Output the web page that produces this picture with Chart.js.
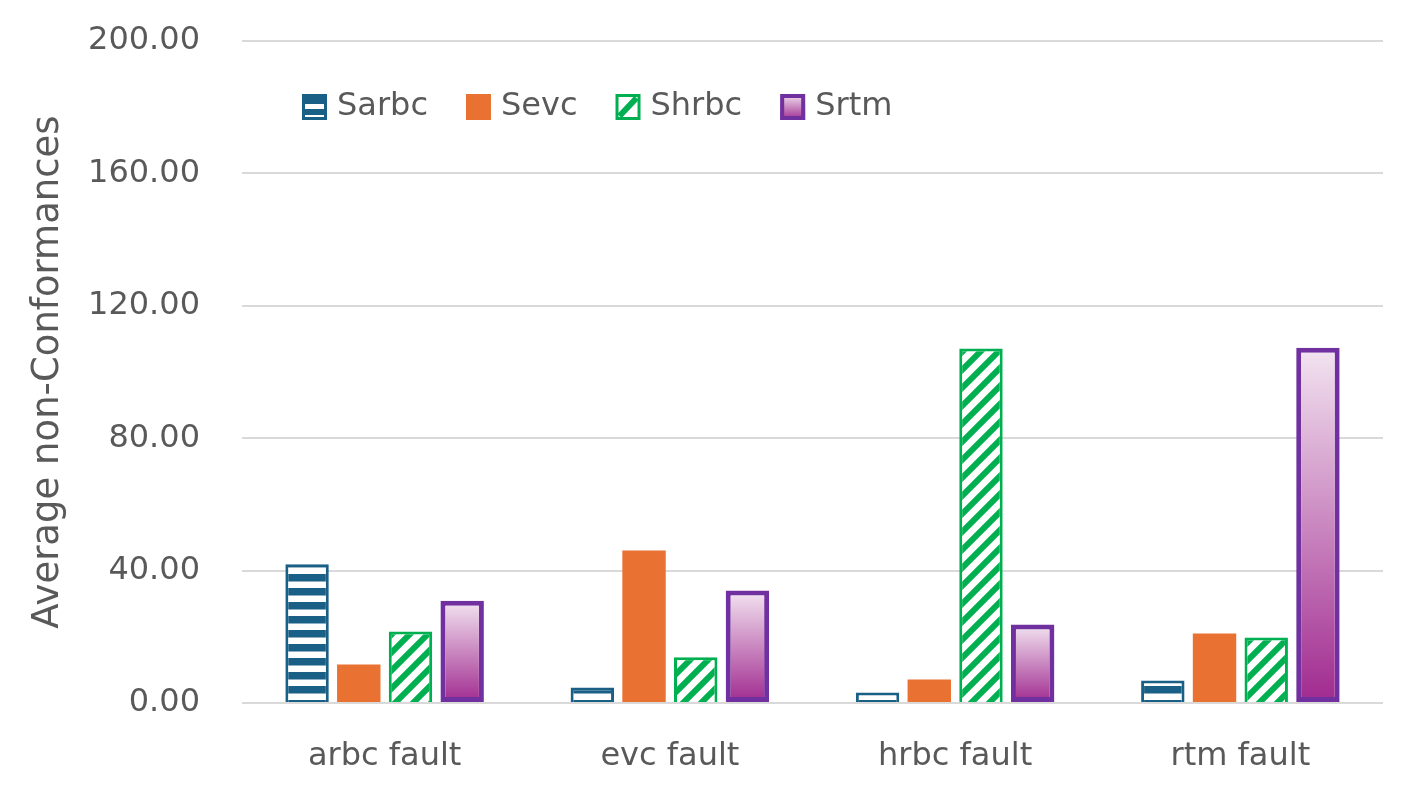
<!DOCTYPE html>
<html>
<head>
<meta charset="utf-8">
<script src="https://cdn.jsdelivr.net/npm/chart.js@4.4.1/dist/chart.umd.min.js"></script>
<style>
  html, body { margin: 0; padding: 0; background: #fff; }
  #wrap { width: 1425px; height: 787px; }
</style>
</head>
<body>
<div id="wrap"><canvas id="chart" width="1425" height="787"></canvas></div>
<script>
// data
const categories = ['arbc fault', 'evc fault', 'hrbc fault', 'rtm fault'];
const seriesNames = ['Sarbc', 'Sevc', 'Shrbc', 'Srtm'];
const sarbc = [41.9, 4.7, 3.2, 6.8];
const sevc = [11.6, 46.1, 7.1, 21.0];
const shrbc = [21.6, 13.8, 107.1, 19.8];
const srtm = [30.9, 34.0, 23.7, 107.3];
const yTicks = [0, 40, 80, 120, 160, 200];

const FONT = '"DejaVu Sans", Verdana, sans-serif';
const TEXT = '#595959';
const BLUE = '#1A5F85';
const ORANGE = '#E97132';
const GREEN = '#00B050';
const PURPLE = '#7030A0';

// horizontal stripes for Sarbc
function stripePattern() {
    const c = document.createElement('canvas');
    c.width = 8; c.height = 14;
    const g = c.getContext('2d');
    g.fillStyle = '#fff';
    g.fillRect(0, 0, 8, 14);
    g.fillStyle = BLUE;
    g.fillRect(0, 0, 8, 7.5);
    return g.createPattern(c, 'repeat');
}

// upward diagonal for Shrbc
function diagPattern() {
    const s = 18;
    const c = document.createElement('canvas');
    c.width = s; c.height = s;
    const g = c.getContext('2d');
    g.fillStyle = '#fff';
    g.fillRect(0, 0, s, s);
    g.strokeStyle = GREEN;
    g.lineWidth = 6;
    // lines run past the tile so the corners join up
    for (const k of [-1, 0, 1]) {
        g.beginPath();
        g.moveTo(k * s - 4, s + 4);
        g.lineTo(k * s + s + 4, -4);
        g.stroke();
    }
    return g.createPattern(c, 'repeat');
}

const sarbcFill = stripePattern();
const shrbcFill = diagPattern();

// light top -> dark bottom, one gradient per bar
function srtmFill(context) {
    const chart = context.chart;
    if (!chart.chartArea || context.type !== 'data') return '#C77BBE';
    const y = chart.scales.y;
    const top = y.getPixelForValue(context.raw);
    const bottom = y.getPixelForValue(0);
    const g = chart.ctx.createLinearGradient(0, top, 0, bottom);
    g.addColorStop(0, '#F3E4F1');
    g.addColorStop(1, '#A02A8F');
    return g;
}

// legend drawn inside the plot area
const insideLegend = {
    id: 'insideLegend',
    afterDatasetsDraw(chart) {
        const ctx = chart.ctx;
        const boxW = 25, boxH = 26, y = 107;
        let x = 302;
        ctx.save();
        ctx.font = '32px ' + FONT;
        ctx.textBaseline = 'middle';
        seriesNames.forEach((name, i) => {
            const top = y - boxH / 2;
            if (i === 0) {
                ctx.fillStyle = BLUE;
                ctx.fillRect(x, top, boxW, boxH);
                ctx.fillStyle = '#fff';
                ctx.fillRect(x + 3, top + 10, boxW - 6, 5);
                ctx.fillRect(x + 3, top + boxH - 5, boxW - 6, 2);
            } else if (i === 1) {
                ctx.fillStyle = ORANGE;
                ctx.fillRect(x, top, boxW, boxH);
            } else if (i === 2) {
                ctx.fillStyle = '#fff';
                ctx.fillRect(x, top, boxW, boxH);
                ctx.strokeStyle = GREEN;
                ctx.lineWidth = 6;
                ctx.beginPath();
                ctx.moveTo(x + 4, top + boxH - 4);
                ctx.lineTo(x + boxW - 4, top + 4);
                ctx.stroke();
                ctx.lineWidth = 3;
                ctx.strokeRect(x + 1.5, top + 1.5, boxW - 3, boxH - 3);
            } else {
                const g = ctx.createLinearGradient(0, top, 0, top + boxH);
                g.addColorStop(0, '#F3E4F1');
                g.addColorStop(1, '#A02A8F');
                ctx.fillStyle = g;
                ctx.fillRect(x, top, boxW, boxH);
                ctx.strokeStyle = PURPLE;
                ctx.lineWidth = 4;
                ctx.strokeRect(x + 2, top + 2, boxW - 4, boxH - 4);
            }
            ctx.fillStyle = TEXT;
            ctx.textAlign = 'left';
            ctx.fillText(name, x + boxW + 10, y);
            x += boxW + 10 + ctx.measureText(name).width + 38;
        });
        ctx.restore();
    }
};

new Chart(document.getElementById('chart'), {
    type: 'bar',
    data: {
        labels: categories,
        datasets: [
            {
                label: seriesNames[0],
                data: sarbc,
                backgroundColor: sarbcFill,
                borderColor: BLUE,
                borderWidth: 3,
            },
            {
                label: seriesNames[1],
                data: sevc,
                backgroundColor: ORANGE,
                borderWidth: 0,
            },
            {
                label: seriesNames[2],
                data: shrbc,
                backgroundColor: shrbcFill,
                borderColor: GREEN,
                borderWidth: 3,
            },
            {
                label: seriesNames[3],
                data: srtm,
                backgroundColor: srtmFill,
                borderColor: PURPLE,
                borderWidth: 5,
                borderSkipped: false,
            }
        ]
    },
    options: {
        responsive: false,
        animation: false,
        categoryPercentage: 0.725,
        barPercentage: 0.84,
        layout: {
            padding: { top: 41, right: 42, bottom: 0, left: 0 }
        },
        plugins: {
            legend: { display: false },
            tooltip: { enabled: false },
        },
        scales: {
            x: {
                grid: { display: false },
                border: { display: false },
                ticks: {
                    color: TEXT,
                    font: { family: FONT, size: 32 },
                    padding: 26,
                },
                afterFit: (scale) => { scale.height = 84; },
            },
            y: {
                min: 0,
                max: 200,
                afterBuildTicks: (scale) => {
                    scale.ticks = yTicks.map(v => ({ value: v }));
                },
                grid: {
                    color: '#D9D9D9',
                    lineWidth: 2,
                    drawTicks: false,
                },
                border: { display: false },
                ticks: {
                    color: TEXT,
                    font: { family: FONT, size: 32 },
                    padding: 42,
                    callback: (value) => value.toFixed(2),
                },
                title: {
                    display: true,
                    text: 'Average non-Conformances',
                    color: TEXT,
                    font: { family: FONT, size: 37 },
                    padding: { top: 26, bottom: 0 },
                },
                afterFit: (scale) => {
                    scale.width = 242;
                    scale.paddingTop = 0;
                    scale.paddingBottom = 0;
                },
            }
        }
    },
    plugins: [insideLegend]
});
</script>
</body>
</html>
